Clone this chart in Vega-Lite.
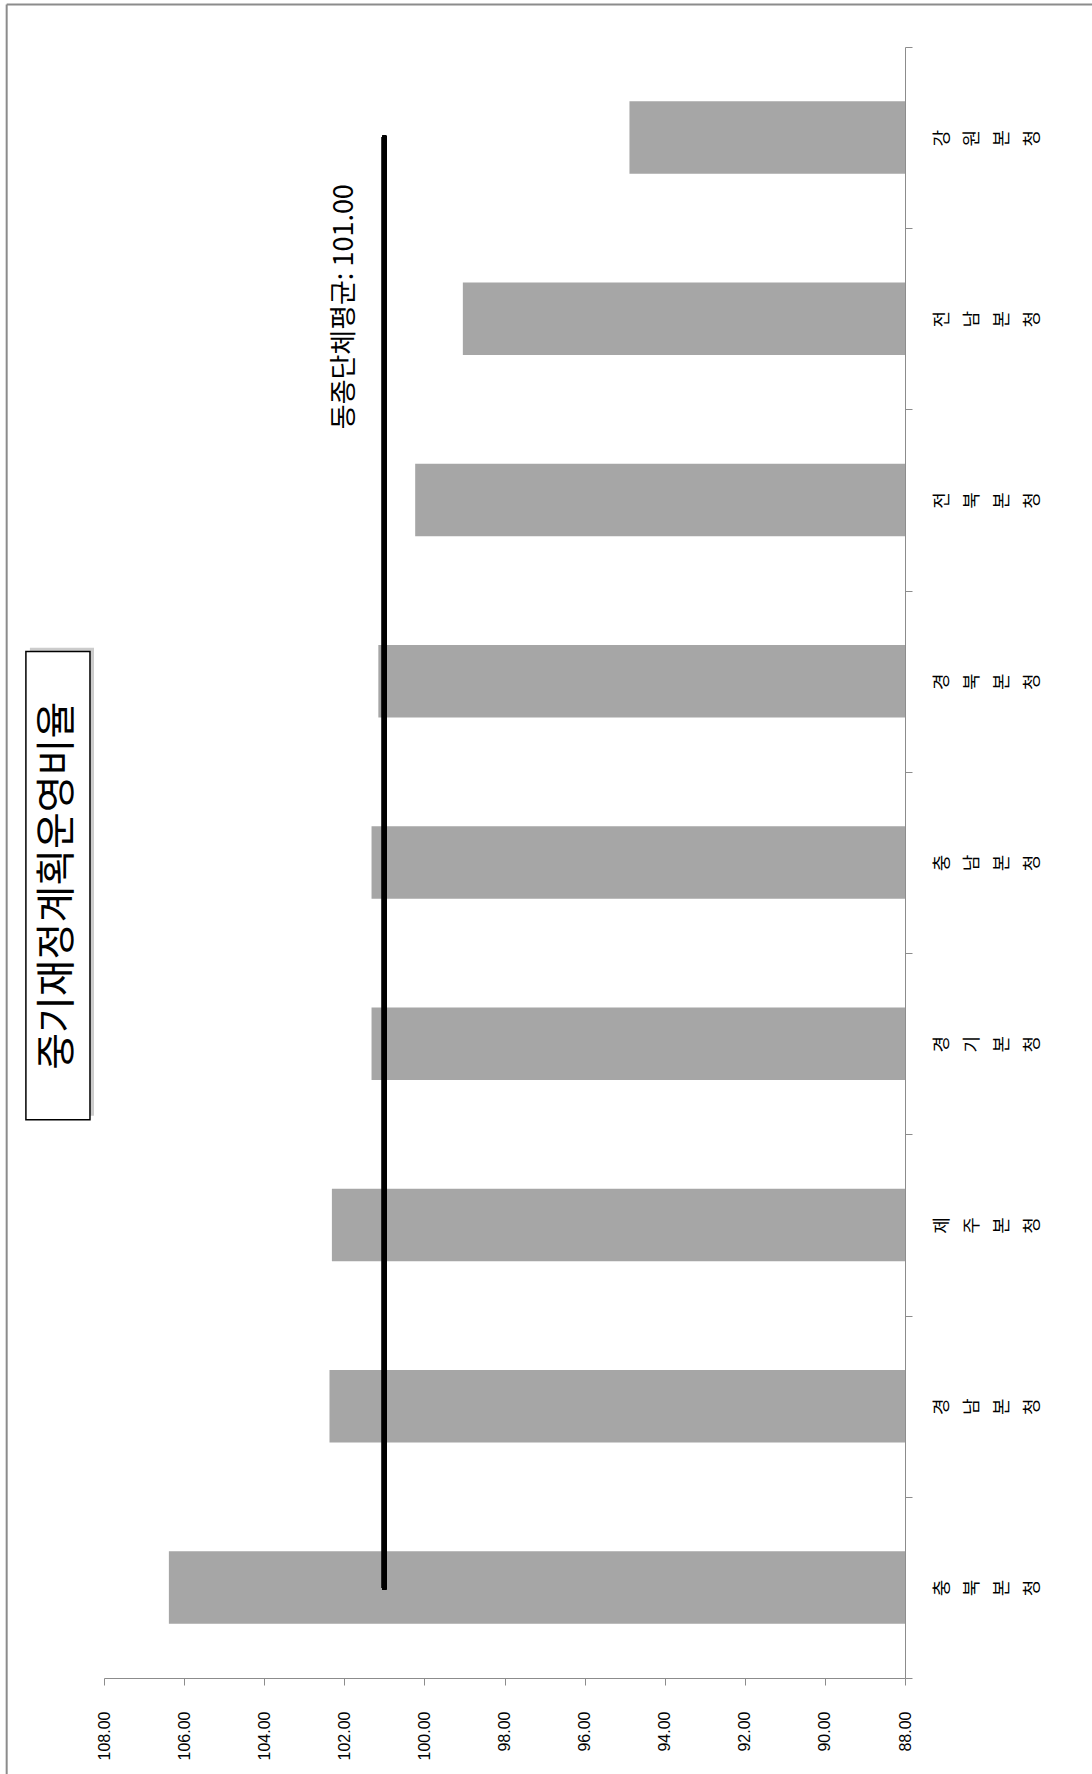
{
  "$schema": "https://vega.github.io/schema/vega-lite/v6.json",
  "width": 801,
  "height": 1631,
  "autosize": {"type": "none"},
  "padding": {"left": 104, "top": 47, "right": 187, "bottom": 96},
  "background": "white",
  "config": {"view": {"stroke": null}},
  "datasets": {
    "bars": [
      {"region": "강원본청", "value": 94.88},
      {"region": "전남본청", "value": 99.04},
      {"region": "전북본청", "value": 100.23},
      {"region": "경북본청", "value": 101.15},
      {"region": "충남본청", "value": 101.32},
      {"region": "경기본청", "value": 101.32},
      {"region": "제주본청", "value": 102.31},
      {"region": "경남본청", "value": 102.37},
      {"region": "충북본청", "value": 106.38}
    ]
  },
  "layer": [
    {
      "data": {"name": "bars"},
      "layer": [
        {
          "mark": {"type": "bar", "color": "#A6A6A6", "height": {"band": 0.4}},
          "encoding": {
            "y": {
              "field": "region",
              "type": "nominal",
              "sort": null,
              "scale": {"paddingInner": 0, "paddingOuter": 0},
              "axis": {
                "orient": "right",
                "title": null,
                "tickBand": "extent",
                "tickSize": 7,
                "tickColor": "#8c8c8c",
                "domainColor": "#8c8c8c",
                "labelAngle": -90,
                "labelAlign": "center",
                "labelBaseline": "top",
                "labelPadding": 21,
                "labelExpr": "split(datum.label, '')",
                "labelLineHeight": 30,
                "labelFont": "Noto Sans CJK KR",
                "labelFontSize": 18,
                "labelColor": "#000000",
                "labelOverlap": false,
                "labelBound": false,
                "labelFlush": false
              }
            },
            "x": {
              "field": "value",
              "type": "quantitative",
              "scale": {"domain": [88, 108], "reverse": true, "zero": false, "nice": false},
              "axis": {
                "orient": "bottom",
                "title": null,
                "values": [88, 90, 92, 94, 96, 98, 100, 102, 104, 106, 108],
                "format": ".2f",
                "grid": false,
                "labelAngle": -90,
                "labelAlign": "right",
                "labelBaseline": "middle",
                "labelPadding": 26,
                "tickSize": 7,
                "tickColor": "#8c8c8c",
                "domainColor": "#8c8c8c",
                "labelFont": "Liberation Sans",
                "labelFontSize": 16,
                "labelColor": "#000000",
                "labelOverlap": false,
                "labelFlush": false
              }
            },
            "x2": {"datum": 88}
          }
        },
        {
          "mark": {"type": "rule", "color": "#000000", "strokeWidth": 5, "strokeCap": "round"},
          "encoding": {
            "y": {"datum": "강원본청"},
            "y2": {"datum": "충북본청"},
            "x": {"datum": 101}
          }
        }
      ]
    },
    {
      "data": {"values": [{}]},
      "layer": [
        {
          "mark": {"type": "rule", "color": "#8c8c8c", "strokeWidth": 2},
          "encoding": {
            "x": {"datum": 110.43},
            "x2": {"datum": 83.3},
            "y": {"datum": 1.0261, "type": "quantitative", "scale": {"domain": [0, 1], "zero": false, "nice": false}, "axis": null}
          }
        },
        {
          "mark": {"type": "rule", "color": "#8c8c8c", "strokeWidth": 2},
          "encoding": {
            "x": {"datum": 110.43},
            "y": {"datum": 1.0261, "type": "quantitative", "axis": null},
            "y2": {"datum": -0.06}
          }
        },
        {
          "mark": {"type": "rect", "color": "#999999", "opacity": 0.5},
          "encoding": {
            "x": {"datum": 109.85},
            "x2": {"datum": 108.25},
            "y": {"datum": 0.6317, "type": "quantitative", "axis": null},
            "y2": {"datum": 0.3447}
          }
        },
        {
          "mark": {"type": "rect", "fill": "#ffffff", "stroke": "#000000", "strokeWidth": 1.5},
          "encoding": {
            "x": {"datum": 109.95},
            "x2": {"datum": 108.35},
            "y": {"datum": 0.6293, "type": "quantitative", "axis": null},
            "y2": {"datum": 0.3422}
          }
        },
        {
          "mark": {"type": "text", "text": "중기재정계획운영비율", "angle": -90, "align": "center", "baseline": "middle", "font": "Noto Sans CJK KR", "fontSize": 40, "color": "#000000"},
          "encoding": {
            "x": {"datum": 109.15},
            "y": {"datum": 0.4857, "type": "quantitative", "axis": null}
          }
        },
        {
          "mark": {"type": "text", "text": "동종단체평균: 101.00", "angle": -90, "align": "center", "baseline": "middle", "font": "Noto Sans CJK KR", "fontSize": 27, "color": "#000000"},
          "encoding": {
            "x": {"datum": 101.98},
            "y": {"datum": 0.8408, "type": "quantitative", "axis": null}
          }
        }
      ]
    }
  ],
  "resolve": {"scale": {"y": "independent"}, "axis": {"y": "independent"}}
}
